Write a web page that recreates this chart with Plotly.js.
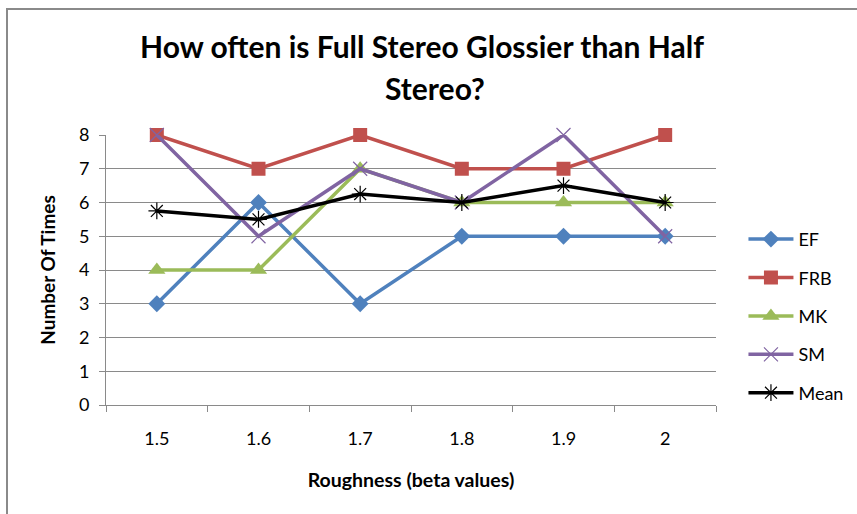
<!DOCTYPE html>
<html>
<head>
<meta charset="utf-8">
<script src="https://cdn.plot.ly/plotly-3.0.1.min.js"></script>
<style>
html,body{margin:0;padding:0;background:#fff;}
#wrap{position:relative;width:857px;height:514px;overflow:hidden;}
#chart{position:absolute;left:0;top:0;width:900px;height:514px;}
#frame{position:absolute;left:6px;top:8px;width:900px;height:600px;border-left:2px solid #8a8a8a;border-top:2px solid #8a8a8a;pointer-events:none;}
</style>
</head>
<body>
<div id="wrap"><div id="chart"></div><div id="frame"></div></div>
<script>
const categories = ["1.5", "1.6", "1.7", "1.8", "1.9", "2"];
const EF   = [3, 6, 3, 5, 5, 5];
const FRB  = [8, 7, 8, 7, 7, 8];
const MK   = [4, 4, 7, 6, 6, 6];
const SM   = [8, 5, 7, 6, 8, 5];
const Mean = [5.75, 5.5, 6.25, 6, 6.5, 6];
const yTicks = [0, 1, 2, 3, 4, 5, 6, 7, 8];

const FONT = "Lato, 'Open Sans', sans-serif";

function tr(name, y, color, symbol, size, lw, mline, group) {
  return {
    type: "scatter", mode: "lines+markers", name: name, x: categories, y: y,
    legendgroup: group, cliponaxis: false,
    line: {color: color, width: lw},
    marker: {symbol: symbol, size: size, color: color, line: mline}
  };
}

const data = [
  tr("EF", EF, "#4F81BD", "diamond", 13, 3.5, {width: 0}, "g1"),
  tr("FRB", FRB, "#C0504D", "square", 14, 3.5, {width: 0}, "g2"),
  tr("MK", MK, "#9BBB59", "triangle-up", 15, 3.5, {width: 0}, "g3"),
  tr("SM", SM, "#8064A2", "x-thin-open", 14, 3.5, {width: 1.2, color: "#B4A2D2"}, "g4"),
  tr("Mean", Mean, "#000000", "asterisk-open", 14, 3.5, {width: 1.2, color: "#000000"}, "g5")
];

// Plot area: x 106..716, y 135..405 (figure 900 wide, clipped to 857)
const layout = {
  width: 900, height: 514,
  margin: {l: 106, r: 184, t: 135, b: 109},
  paper_bgcolor: "#fff", plot_bgcolor: "#fff",
  font: {family: FONT, color: "#000", size: 18},
  title: {
    text: "<b>How often is Full Stereo Glossier than Half</b>",
    font: {family: FONT, size: 30, color: "#000"},
    x: 422 / 900, xanchor: "center", y: 0.908, yanchor: "middle"
  },
  annotations: [{
    text: "<b>Stereo?</b>", xref: "paper", yref: "paper",
    x: 0.539, y: 1.175, xanchor: "center", yanchor: "middle",
    showarrow: false, font: {family: FONT, size: 30, color: "#000"}
  }],
  xaxis: {
    type: "category", categoryorder: "array", categoryarray: categories,
    range: [-0.5, 5.5],
    showgrid: false, showline: true, linecolor: "#8a8a8a", linewidth: 1,
    ticks: "outside", tickson: "boundaries", ticklen: 6, tickcolor: "#8a8a8a",
    ticklabelstandoff: 17,
    tickfont: {family: FONT, size: 18, color: "#000"},
    title: {text: "<b>Roughness (beta values)</b>", font: {family: FONT, size: 19.5, color: "#000"}, standoff: 25},
    fixedrange: true
  },
  yaxis: {
    range: [0, 8], tickmode: "array", tickvals: yTicks, ticktext: yTicks.map(String),
    showgrid: true, gridcolor: "#8a8a8a", gridwidth: 1,
    showline: true, linecolor: "#8a8a8a", linewidth: 1, zeroline: false,
    ticks: "outside", ticklen: 6, tickcolor: "#8a8a8a",
    ticklabelstandoff: 6,
    tickfont: {family: FONT, size: 18, color: "#000"},
    title: {text: "<b>Number Of Times</b>", font: {family: FONT, size: 19, color: "#000"}, standoff: 18},
    fixedrange: true
  },
  showlegend: true,
  legend: {
    x: 1.045, xanchor: "left", y: 0.33, yanchor: "middle",
    traceorder: "grouped", tracegroupgap: 12, itemwidth: 45,
    font: {family: FONT, size: 18, color: "#000"},
    bgcolor: "rgba(0,0,0,0)", borderwidth: 0
  }
};

Plotly.newPlot("chart", data, layout, {displayModeBar: false, staticPlot: true});
</script>
</body>
</html>
